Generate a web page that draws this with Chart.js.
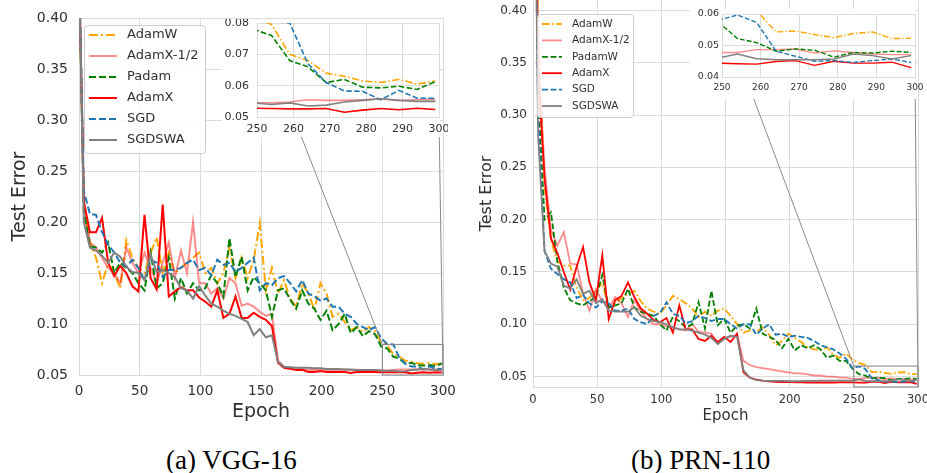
<!DOCTYPE html>
<html>
<head>
<meta charset="utf-8">
<script src="https://cdn.jsdelivr.net/npm/chart.js@4.4.0/dist/chart.umd.min.js"></script>
<style>
  body { margin: 0; background: #fff; width: 927px; height: 473px; position: relative; overflow: hidden; }
  canvas { position: absolute; }
  .cap { position: absolute; font-family: "Liberation Serif", serif; font-size: 27px; line-height: 27px; color: #000; white-space: nowrap; }
</style>
</head>
<body>
<canvas id="mainA" width="460" height="430" style="left:0;top:0"></canvas>
<canvas id="mainB" width="457" height="430" style="left:470px;top:0"></canvas>
<canvas id="insetA" width="226" height="118" style="left:222px;top:19px"></canvas>
<canvas id="insetB" width="235" height="90" style="left:690px;top:9px"></canvas>
<div class="cap" style="left:166px;top:447px">(a) VGG-16</div>
<div class="cap" style="left:631px;top:447px">(b) PRN-110</div>
<script>
// ---- data ----
const epochs = [0, 4, 9, 14, 19, 24, 29, 34, 39, 44,
    49, 54, 59, 64, 69, 74, 79, 84, 89, 94,
    99, 104, 109, 114, 119, 124, 129, 134, 139, 144,
    149, 154, 159, 164, 169, 174, 179, 184, 189, 194,
    199, 204, 209, 214, 219, 224, 229, 234, 239, 244,
    249, 254, 259, 264, 269, 274, 279, 284, 289, 294, 299];

// (a) VGG-16
const vggAdamW = [0.45, 0.21, 0.18, 0.165, 0.14, 0.16, 0.15, 0.135, 0.182, 0.165,
    0.155, 0.15, 0.17, 0.185, 0.15, 0.17, 0.15, 0.155, 0.16, 0.165,
    0.17, 0.15, 0.155, 0.14, 0.15, 0.175, 0.145, 0.165, 0.145, 0.163,
    0.199, 0.133, 0.155, 0.13, 0.143, 0.125, 0.117, 0.14, 0.13, 0.114,
    0.14, 0.13, 0.107, 0.11, 0.102, 0.094, 0.097, 0.092, 0.097, 0.093,
    0.082, 0.0795, 0.07, 0.068, 0.064, 0.063, 0.0615, 0.061, 0.062, 0.0605, 0.0615];
const vggAdamXHalf = [0.45, 0.22, 0.18, 0.175, 0.165, 0.155, 0.15, 0.14, 0.175, 0.16,
    0.15, 0.17, 0.155, 0.14, 0.16, 0.18, 0.145, 0.172, 0.15, 0.2,
    0.14, 0.14, 0.13, 0.135, 0.125, 0.145, 0.14, 0.118, 0.12, 0.117,
    0.112, 0.108, 0.11, 0.064, 0.058, 0.057, 0.056, 0.056, 0.055, 0.055,
    0.056, 0.055, 0.055, 0.055, 0.0555, 0.055, 0.0552, 0.055, 0.0548, 0.0548,
    0.0545, 0.0545, 0.0548, 0.0555, 0.0553, 0.0553, 0.0555, 0.0558, 0.0553, 0.0555, 0.0556];
const vggPadam = [0.45, 0.21, 0.176, 0.175, 0.17, 0.18, 0.15, 0.16, 0.155, 0.15,
    0.14, 0.133, 0.17, 0.135, 0.14, 0.165, 0.125, 0.145, 0.13, 0.14,
    0.133, 0.135, 0.148, 0.14, 0.127, 0.184, 0.146, 0.166, 0.133, 0.146,
    0.14, 0.133, 0.107, 0.133, 0.135, 0.124, 0.115, 0.133, 0.12, 0.115,
    0.104, 0.113, 0.094, 0.1, 0.11, 0.091, 0.097, 0.088, 0.093, 0.09,
    0.078, 0.076, 0.068, 0.066, 0.061, 0.062, 0.0595, 0.0593, 0.0598, 0.0588, 0.0613];
const vggAdamX = [0.45, 0.22, 0.19, 0.19, 0.204, 0.16, 0.147, 0.157, 0.15, 0.137,
    0.132, 0.207, 0.145, 0.134, 0.217, 0.127, 0.132, 0.136, 0.133, 0.133,
    0.126, 0.122, 0.117, 0.133, 0.106, 0.11, 0.127, 0.106, 0.106, 0.111,
    0.107, 0.104, 0.098, 0.062, 0.057, 0.056, 0.055, 0.055, 0.053, 0.053,
    0.054, 0.053, 0.053, 0.053, 0.053, 0.052, 0.053, 0.053, 0.053, 0.053,
    0.0528, 0.0527, 0.0526, 0.0526, 0.0527, 0.0515, 0.0522, 0.0527, 0.0523, 0.0528, 0.0524];
const vggSGD = [0.45, 0.23, 0.208, 0.207, 0.19, 0.178, 0.17, 0.16, 0.156, 0.163,
    0.155, 0.143, 0.163, 0.16, 0.146, 0.153, 0.153, 0.155, 0.16, 0.163,
    0.153, 0.155, 0.148, 0.163, 0.158, 0.16, 0.151, 0.155, 0.16, 0.165,
    0.133, 0.14, 0.138, 0.145, 0.147, 0.14, 0.132, 0.143, 0.13, 0.127,
    0.123, 0.125, 0.117, 0.117, 0.11, 0.107, 0.1, 0.097, 0.094, 0.097,
    0.086, 0.0805, 0.08, 0.067, 0.061, 0.0583, 0.0582, 0.0555, 0.0585, 0.056, 0.056];
const vggSGDSWA = [0.45, 0.2, 0.175, 0.172, 0.167, 0.16, 0.17, 0.166, 0.156, 0.151,
    0.15, 0.143, 0.168, 0.151, 0.153, 0.15, 0.146, 0.135, 0.133, 0.125,
    0.137, 0.128, 0.12, 0.117, 0.113, 0.11, 0.108, 0.105, 0.102, 0.089,
    0.095, 0.087, 0.089, 0.063, 0.058, 0.0575, 0.057, 0.057, 0.057, 0.0565,
    0.0565, 0.056, 0.056, 0.056, 0.0555, 0.0555, 0.055, 0.055, 0.055, 0.0548,
    0.0545, 0.054, 0.0545, 0.0535, 0.0538, 0.0548, 0.0553, 0.0558, 0.0553, 0.055, 0.055];

// (b) PRN-110
const prnAdamW = [0.7, 0.38, 0.23, 0.18, 0.16, 0.156, 0.156, 0.135, 0.123, 0.125,
    0.133, 0.139, 0.116, 0.12, 0.125, 0.129, 0.132, 0.122, 0.115, 0.112,
    0.11, 0.118, 0.127, 0.124, 0.12, 0.115, 0.107, 0.112, 0.108, 0.113,
    0.115, 0.108, 0.1, 0.092, 0.094, 0.093, 0.097, 0.09, 0.08, 0.084,
    0.091, 0.087, 0.083, 0.078, 0.076, 0.075, 0.078, 0.071, 0.068, 0.072,
    0.066, 0.063, 0.061, 0.0543, 0.0546, 0.0535, 0.0525, 0.0538, 0.0543, 0.0522, 0.0523];
const prnAdamXHalf = [0.7, 0.36, 0.25, 0.19, 0.175, 0.188, 0.158, 0.157, 0.13, 0.113,
    0.133, 0.122, 0.115, 0.126, 0.12, 0.107, 0.123, 0.112, 0.105, 0.1,
    0.1, 0.098, 0.097, 0.095, 0.094, 0.1, 0.093, 0.092, 0.091, 0.081,
    0.087, 0.088, 0.09, 0.065, 0.061, 0.059, 0.058, 0.057, 0.056, 0.055,
    0.054, 0.053, 0.053, 0.052, 0.051, 0.051, 0.05, 0.05, 0.049, 0.049,
    0.0478, 0.0478, 0.0487, 0.0487, 0.0489, 0.0476, 0.0483, 0.0478, 0.0473, 0.0471, 0.0471];
const prnPadamW = [0.7, 0.32, 0.2, 0.207, 0.16, 0.135, 0.123, 0.12, 0.118, 0.122,
    0.126, 0.147, 0.116, 0.118, 0.12, 0.134, 0.116, 0.112, 0.11, 0.108,
    0.1, 0.094, 0.107, 0.103, 0.097, 0.1, 0.121, 0.096, 0.132, 0.099,
    0.105, 0.092, 0.099, 0.1, 0.096, 0.115, 0.091, 0.088, 0.085, 0.077,
    0.086, 0.075, 0.08, 0.077, 0.08, 0.076, 0.068, 0.07, 0.065, 0.065,
    0.0575, 0.0522, 0.0509, 0.0482, 0.0489, 0.0485, 0.0463, 0.0478, 0.0476, 0.0482, 0.0478];
const prnAdamX = [0.7, 0.34, 0.24, 0.182, 0.168, 0.15, 0.133, 0.155, 0.174, 0.14,
    0.123, 0.166, 0.105, 0.123, 0.127, 0.14, 0.126, 0.115, 0.11, 0.104,
    0.102, 0.106, 0.092, 0.118, 0.095, 0.095, 0.086, 0.084, 0.089, 0.083,
    0.088, 0.083, 0.091, 0.054, 0.049, 0.047, 0.046, 0.0455, 0.045, 0.0448,
    0.045, 0.0445, 0.0445, 0.0443, 0.0443, 0.0445, 0.0443, 0.0443, 0.0445, 0.0444,
    0.0444, 0.0442, 0.0441, 0.0449, 0.0452, 0.0437, 0.045, 0.0444, 0.0444, 0.0447, 0.043];
const prnSGD = [0.7, 0.3, 0.17, 0.153, 0.148, 0.143, 0.14, 0.125, 0.128, 0.12,
    0.116, 0.122, 0.12, 0.113, 0.113, 0.115, 0.105, 0.102, 0.1, 0.108,
    0.111, 0.121, 0.11, 0.108, 0.101, 0.103, 0.108, 0.106, 0.103, 0.105,
    0.105, 0.1, 0.096, 0.1, 0.1, 0.09, 0.096, 0.1, 0.09, 0.091,
    0.088, 0.089, 0.088, 0.087, 0.084, 0.08, 0.078, 0.076, 0.072, 0.067,
    0.058, 0.0597, 0.0573, 0.0482, 0.0466, 0.045, 0.0452, 0.0446, 0.0452, 0.0457, 0.0446];
const prnSGDSWA = [0.7, 0.28, 0.17, 0.158, 0.155, 0.137, 0.134, 0.143, 0.129, 0.132,
    0.12, 0.124, 0.113, 0.112, 0.112, 0.112, 0.116, 0.108, 0.105, 0.103,
    0.102, 0.1, 0.097, 0.095, 0.095, 0.094, 0.092, 0.09, 0.087, 0.081,
    0.086, 0.089, 0.088, 0.056, 0.049, 0.0465, 0.046, 0.0458, 0.0458, 0.0458,
    0.0455, 0.0455, 0.0455, 0.0458, 0.0458, 0.046, 0.046, 0.046, 0.046, 0.046,
    0.046, 0.0473, 0.0458, 0.0455, 0.0455, 0.0455, 0.0457, 0.0473, 0.0468, 0.0457, 0.0468];

const labelsA = ["AdamW", "AdamX-1/2", "Padam", "AdamX", "SGD", "SGDSWA"];
const labelsB = ["AdamW", "AdamX-1/2", "PadamW", "AdamX", "SGD", "SGDSWA"];

const epochTicks = [0, 50, 100, 150, 200, 250, 300];
const errorTicks = [0.05, 0.10, 0.15, 0.20, 0.25, 0.30, 0.35, 0.40];
const zoomTicks = [250, 260, 270, 280, 290, 300];
const insetATicks = [0.05, 0.06, 0.07, 0.08];
const insetBTicks = [0.04, 0.05, 0.06];

// zoomed window: [xmin, xmax, ymin, ymax]
const zoomA = [250, 300, 0.05, 0.08];
const zoomB = [250, 300, 0.04, 0.06];

// ---- styles ----
const FONT = "DejaVu Sans";
const TXT = "#303030";
const GRID = "#dcdcdc";
const seriesStyle = [
    { color: "#ffa500", dash: [9, 3, 2, 3] },
    { color: "rgba(255,0,0,0.45)", dash: [] },
    { color: "#008000", dash: [7, 3] },
    { color: "#ff0000", dash: [] },
    { color: "#1f77b4", dash: [7, 3] },
    { color: "#808080", dash: [] },
];

function makeDatasets(labels, series, width, dashScale) {
    return series.map((vals, i) => ({
        label: labels[i],
        data: epochs.map((e, k) => ({ x: e, y: vals[k] })),
        borderColor: seriesStyle[i].color,
        borderDash: seriesStyle[i].dash.map((d) => d * dashScale),
        borderWidth: width,
        pointRadius: 0,
        tension: 0,
        fill: false,
        order: series.length - i, // later series on top, as in matplotlib
    }));
}

// custom legend drawn with real dash patterns
const legendBox = {
    id: "legendBox",
    afterDraw(chart, args, o) {
        if (!o || !o.w) return;
        const ctx = chart.ctx;
        const a = chart.chartArea;
        const x = a.left + o.dx, y = a.top + o.dy;
        ctx.save();
        ctx.fillStyle = "rgba(255,255,255,0.85)";
        ctx.strokeStyle = "#cccccc";
        ctx.lineWidth = 1;
        ctx.beginPath();
        if (ctx.roundRect) ctx.roundRect(x + 0.5, y + 0.5, o.w, o.h, 3);
        else ctx.rect(x + 0.5, y + 0.5, o.w, o.h);
        ctx.fill();
        ctx.stroke();
        chart.data.datasets.forEach((ds, i) => {
            const cy = y + o.first + i * o.row;
            ctx.strokeStyle = ds.borderColor;
            ctx.lineWidth = ds.borderWidth;
            ctx.setLineDash(ds.borderDash || []);
            ctx.beginPath();
            ctx.moveTo(x + o.lx0, cy);
            ctx.lineTo(x + o.lx1, cy);
            ctx.stroke();
            ctx.setLineDash([]);
            ctx.fillStyle = TXT;
            ctx.font = o.font;
            ctx.textBaseline = "middle";
            ctx.fillText(ds.label, x + o.tx, cy);
        });
        ctx.restore();
    },
};

// zoom rectangle + connector lines to the inset
const zoomMarks = {
    id: "zoomMarks",
    afterDatasetsDraw(chart, args, o) {
        if (!o || !o.box) return;
        const xs = chart.scales.x, ys = chart.scales.y, ctx = chart.ctx;
        const L = xs.getPixelForValue(o.box[0]), R = xs.getPixelForValue(o.box[1]);
        const B = ys.getPixelForValue(o.box[2]), T = ys.getPixelForValue(o.box[3]);
        ctx.save();
        ctx.strokeStyle = "#7f7f7f";
        ctx.lineWidth = 1;
        ctx.strokeRect(L, T, R - L, B - T);
        const ins = Chart.getChart(o.insetId);
        if (ins) {
            const dx = ins.canvas.offsetLeft - chart.canvas.offsetLeft;
            const dy = ins.canvas.offsetTop - chart.canvas.offsetTop;
            const ia = ins.chartArea;
            ctx.strokeStyle = "#8a8a8a";
            ctx.beginPath();
            ctx.moveTo(ia.left + dx, ia.top + dy);
            ctx.lineTo(L, T);
            ctx.moveTo(ia.right + dx, ia.bottom + dy);
            ctx.lineTo(R, B);
            ctx.stroke();
        }
        ctx.restore();
    },
};

const insetBg = {
    id: "insetBg",
    beforeDraw(chart) {
        const ctx = chart.ctx;
        ctx.save();
        ctx.fillStyle = "#ffffff";
        ctx.fillRect(0, 0, chart.chartArea.right + 1, chart.height);
        ctx.restore();
    },
};

function axis(p) {
    return {
        type: "linear",
        min: p.min,
        max: p.max,
        grid: { color: GRID, lineWidth: 1, drawTicks: false },
        border: { color: GRID },
        ticks: {
            color: TXT,
            font: { family: FONT, size: p.size },
            padding: p.pad,
            maxRotation: 0,
            autoSkip: false,
            callback: p.fmt,
        },
        title: p.title ? {
            display: true,
            text: p.title,
            color: TXT,
            font: { family: FONT, size: p.titleSize },
            padding: p.titlePad,
        } : { display: false },
        afterBuildTicks: (s) => { s.ticks = p.ticks.map((v) => ({ value: v })); },
        afterFit: (s) => {
            if (p.width !== undefined) s.width = p.width;
            if (p.height !== undefined) s.height = p.height;
            s.paddingLeft = 0; s.paddingRight = 0; s.paddingTop = 0; s.paddingBottom = 0;
        },
    };
}

const fmtInt = (v) => String(v);
const fmt2 = (v) => v.toFixed(2);

function makeChart(id, datasets, cfg, plugins) {
    return new Chart(document.getElementById(id), {
        type: "line",
        data: { datasets },
        options: {
            responsive: false,
            animation: false,
            events: [],
            layout: { padding: cfg.padding },
            plugins: {
                legend: { display: false },
                tooltip: { enabled: false },
                legendBox: cfg.legend || {},
                zoomMarks: cfg.zoom || {},
            },
            scales: { x: axis(cfg.x), y: axis(cfg.y) },
        },
        plugins,
    });
}

const seriesA = [vggAdamW, vggAdamXHalf, vggPadam, vggAdamX, vggSGD, vggSGDSWA];
const seriesB = [prnAdamW, prnAdamXHalf, prnPadamW, prnAdamX, prnSGD, prnSGDSWA];

// insets first, so the main charts can connect to them
makeChart("insetA", makeDatasets(labelsA, seriesA, 1.6, 0.8), {
    padding: { left: 0, top: 4, right: 9, bottom: 0 },
    x: { min: zoomA[0], max: zoomA[1], ticks: zoomTicks, fmt: fmtInt, size: 11, pad: 6, height: 20 },
    y: { min: zoomA[2], max: zoomA[3], ticks: insetATicks, fmt: fmt2, size: 11, pad: 8, width: 35 },
}, [insetBg]);

makeChart("insetB", makeDatasets(labelsB, seriesB, 1.4, 0.7), {
    padding: { left: 0, top: 5, right: 10, bottom: 0 },
    x: { min: zoomB[0], max: zoomB[1], ticks: zoomTicks, fmt: fmtInt, size: 9, pad: 5, height: 22 },
    y: { min: zoomB[2], max: zoomB[3], ticks: insetBTicks, fmt: fmt2, size: 9.5, pad: 3, width: 32 },
}, [insetBg]);

makeChart("mainA", makeDatasets(labelsA, seriesA, 2, 1), {
    padding: { left: 0, top: 18, right: 17, bottom: 0 },
    x: { min: 0, max: 300, ticks: epochTicks, fmt: fmtInt, size: 13.5, pad: 8, height: 55,
         title: "Epoch", titleSize: 19, titlePad: { top: 0, bottom: 7 } },
    y: { min: 0.05, max: 0.40, ticks: errorTicks, fmt: fmt2, size: 14, pad: 11, width: 79,
         title: "Test Error", titleSize: 19, titlePad: { top: 9, bottom: 0 } },
    legend: { dx: 5, dy: 7, w: 121, h: 128, first: 10, row: 21, lx0: 5, lx1: 33, tx: 43, font: "13px " + FONT },
    zoom: { box: zoomA, insetId: "insetA" },
}, [zoomMarks, legendBox]);

makeChart("mainB", makeDatasets(labelsB, seriesB, 1.8, 0.85), {
    padding: { left: 0, top: 0, right: 9, bottom: 0 },
    x: { min: 0, max: 300, ticks: epochTicks, fmt: fmtInt, size: 11.5, pad: 6, height: 43,
         title: "Epoch", titleSize: 15, titlePad: { top: 0, bottom: 5 } },
    y: { min: 0.04, max: 0.41, ticks: errorTicks, fmt: fmt2, size: 12, pad: 6, width: 63,
         title: "Test Error", titleSize: 16, titlePad: { top: 7, bottom: 0 } },
    legend: { dx: 4, dy: 14, w: 96, h: 103, first: 10, row: 16.4, lx0: 5, lx1: 25, tx: 35, font: "10.5px " + FONT },
    zoom: { box: zoomB, insetId: "insetB" },
}, [zoomMarks, legendBox]);
</script>
</body>
</html>
